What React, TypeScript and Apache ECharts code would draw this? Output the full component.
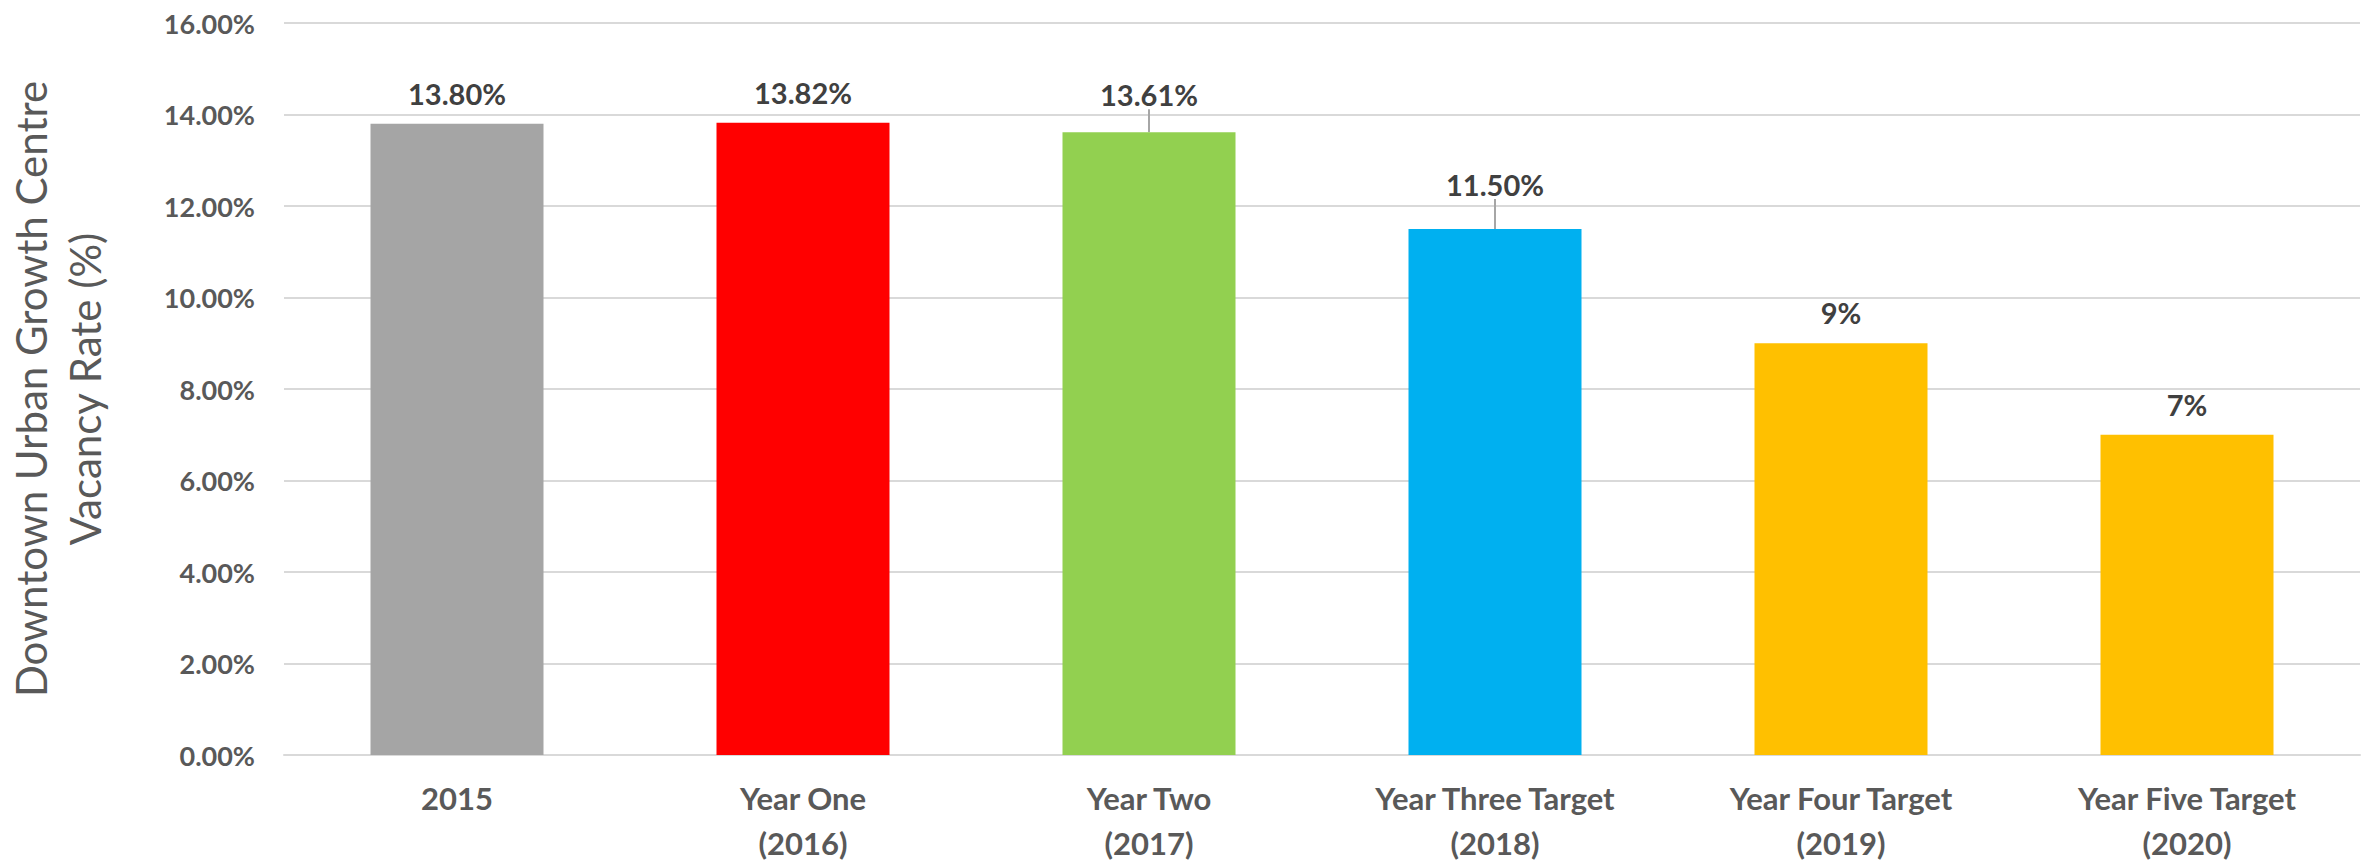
import React, { useEffect, useRef } from "react";
import * as echarts from "echarts";

const categories = [
  "2015",
  "Year One\n(2016)",
  "Year Two\n(2017)",
  "Year Three Target\n(2018)",
  "Year Four Target\n(2019)",
  "Year Five Target\n(2020)",
];
const values = [13.8, 13.82, 13.61, 11.5, 9, 7];
const valueLabels = ["13.80%", "13.82%", "13.61%", "11.50%", "9%", "7%"];
const barColors = ["#A5A5A5", "#FF0000", "#92D050", "#00B0F0", "#FFC000", "#FFC000"];
const labelShift = [0, 0, -7, -14, 0, 0];
const yTicks = { min: 0, max: 16, interval: 2 };
const yTitle = "Downtown Urban Growth Centre\nVacancy Rate (%)";

const FONT = "Lato";

export default function App() {
  const ref = useRef<HTMLDivElement>(null);
  useEffect(() => {
    if (!ref.current) return;
    const chart = echarts.init(ref.current, undefined, { renderer: "svg" });
    chart.setOption({
      animation: false,
      backgroundColor: "#FFFFFF",
      grid: {
        left: 284,
        right: 12,
        top: 23,
        bottom: 111,
        containLabel: false,
        outerBoundsMode: "none",
      },
      xAxis: {
        type: "category",
        data: categories,
        axisLine: { show: true, lineStyle: { color: "#D9D9D9", width: 2 } },
        axisTick: { show: false },
        axisLabel: {
          margin: 20,
          fontFamily: FONT,
          fontWeight: "bold",
          fontSize: 31,
          lineHeight: 45,
          color: "#595959",
          interval: 0,
        },
      },
      yAxis: {
        type: "value",
        min: yTicks.min,
        max: yTicks.max,
        interval: yTicks.interval,
        name: yTitle,
        nameLocation: "middle",
        nameGap: 172,
        nameRotate: 90,
        nameTextStyle: {
          fontFamily: FONT,
          fontSize: 42,
          lineHeight: 54,
          color: "#595959",
        },
        axisLine: { show: false },
        axisTick: { show: false },
        splitLine: { show: true, lineStyle: { color: "#D9D9D9", width: 2 } },
        axisLabel: {
          margin: 29,
          fontFamily: FONT,
          fontWeight: "bold",
          fontSize: 27,
          color: "#595959",
          formatter: (v: number) => v.toFixed(2) + "%",
        },
      },
      series: [
        {
          type: "bar",
          barWidth: "50%",
          data: values.map((v, i) => ({
            value: v,
            itemStyle: { color: barColors[i] },
            labelLine: { show: labelShift[i] !== 0 },
          })),
          label: {
            show: true,
            position: "top",
            distance: 16,
            fontFamily: FONT,
            fontWeight: "bold",
            fontSize: 29,
            color: "#404040",
            formatter: (p: any) => valueLabels[p.dataIndex],
          },
          labelLine: {
            show: false,
            lineStyle: { color: "#A6A6A6", width: 2 },
          },
          labelLayout: (p: any) => ({ dy: labelShift[p.dataIndex] }),
        },
      ],
    });
    return () => chart.dispose();
  }, []);
  return (
    <div
      ref={ref}
      style={{ position: "fixed", left: 0, top: 0, width: "2372px", height: "866px" }}
    />
  );
}
